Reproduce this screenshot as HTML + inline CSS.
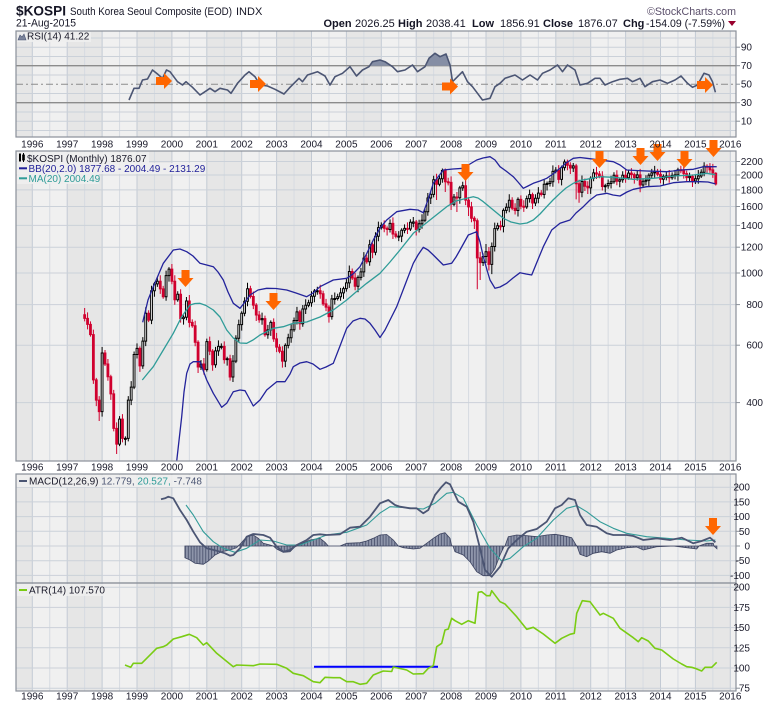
<!DOCTYPE html>
<html><head><meta charset="utf-8">
<style>
html,body{margin:0;padding:0;background:#fff;}
svg{display:block;font-family:"Liberation Sans",Arial,sans-serif;}
</style></head><body>
<svg width="780" height="707" viewBox="0 0 780 707" xmlns="http://www.w3.org/2000/svg">
<defs>
 <pattern id="bands" x="31.8" y="0" width="69.8" height="10" patternUnits="userSpaceOnUse">
  <rect x="0" y="0" width="34.9" height="10" fill="#f0f0f0"/>
  <rect x="34.9" y="0" width="34.9" height="10" fill="#e6e6e6"/>
  <rect x="0" y="0" width="1" height="10" fill="#c3cad4"/>
  <rect x="17.45" y="0" width="1" height="10" fill="#d6dbe1"/>
  <rect x="34.9" y="0" width="1" height="10" fill="#c3cad4"/>
  <rect x="52.35" y="0" width="1" height="10" fill="#d6dbe1"/>
 </pattern>
 <pattern id="hbars" x="30.85" y="0" width="2.9083" height="10" patternUnits="userSpaceOnUse">
  <rect x="0" y="0" width="2.9083" height="10" fill="#8e95aa"/>
  <rect x="0" y="0" width="0.7" height="10" fill="#3c4360"/>
 </pattern>
 <clipPath id="cpR"><rect x="16" y="31" width="720" height="106"/></clipPath>
 <clipPath id="cpM"><rect x="16" y="151" width="720" height="310"/></clipPath>
 <clipPath id="cpD"><rect x="16" y="474" width="720" height="109"/></clipPath>
 <clipPath id="cpA"><rect x="16" y="583" width="720" height="108"/></clipPath>
</defs>

<!-- panel backgrounds -->
<rect x="16" y="31" width="720" height="106" fill="url(#bands)"/>
<rect x="16" y="151" width="720" height="310" fill="url(#bands)"/>
<rect x="16" y="474" width="720" height="217" fill="url(#bands)"/>

<!-- horizontal grids -->
<g stroke="#cbd1d9" stroke-width="1">
 <line x1="16" x2="736" y1="38" y2="38"/><line x1="16" x2="736" y1="47.2" y2="47.2"/><line x1="16" x2="736" y1="56.5" y2="56.5"/>
 <line x1="16" x2="736" y1="75" y2="75"/><line x1="16" x2="736" y1="93.5" y2="93.5"/>
 <line x1="16" x2="736" y1="112" y2="112"/><line x1="16" x2="736" y1="121.2" y2="121.2"/><line x1="16" x2="736" y1="130.5" y2="130.5"/>
 <line x1="16" x2="736" y1="161.5" y2="161.5"/><line x1="16" x2="736" y1="175" y2="175"/><line x1="16" x2="736" y1="189.9" y2="189.9"/>
 <line x1="16" x2="736" y1="206.5" y2="206.5"/><line x1="16" x2="736" y1="225.4" y2="225.4"/><line x1="16" x2="736" y1="247.2" y2="247.2"/>
 <line x1="16" x2="736" y1="273" y2="273"/><line x1="16" x2="736" y1="304.6" y2="304.6"/><line x1="16" x2="736" y1="345.2" y2="345.2"/>
 <line x1="16" x2="736" y1="402.6" y2="402.6"/>
 <line x1="16" x2="736" y1="487.2" y2="487.2"/><line x1="16" x2="736" y1="501.9" y2="501.9"/><line x1="16" x2="736" y1="516.6" y2="516.6"/>
 <line x1="16" x2="736" y1="531.3" y2="531.3"/><line x1="16" x2="736" y1="546" y2="546"/><line x1="16" x2="736" y1="560.7" y2="560.7"/>
 <line x1="16" x2="736" y1="575.4" y2="575.4"/>
 <line x1="16" x2="736" y1="587.2" y2="587.2"/><line x1="16" x2="736" y1="607.4" y2="607.4"/><line x1="16" x2="736" y1="627.6" y2="627.6"/>
 <line x1="16" x2="736" y1="647.8" y2="647.8"/><line x1="16" x2="736" y1="668" y2="668"/><line x1="16" x2="736" y1="688.2" y2="688.2"/>
</g>
<!-- RSI levels -->
<line x1="16" x2="736" y1="65.7" y2="65.7" stroke="#8c8c8c" stroke-width="1.3"/>
<line x1="16" x2="736" y1="102.7" y2="102.7" stroke="#8c8c8c" stroke-width="1.3"/>
<line x1="16" x2="736" y1="84.2" y2="84.2" stroke="#8c8c8c" stroke-width="1" stroke-dasharray="7,3,2,3"/>

<!-- RSI -->
<g clip-path="url(#cpR)">
 <polygon fill="#858ea5" points="370.5,65.7 372.5,61.7 380,60 385,61.7 391.8,65.7"/>
 <polygon fill="#858ea5" points="426.6,65.7 429,58.3 435,53.3 440,56.7 446,54 450.1,65.7"/>
 <polyline fill="none" stroke="#4b5573" stroke-width="1.6" stroke-linejoin="round" points="129,100 134,88.3 139,88.3 142.5,80 147.5,79 152.5,70 157.5,74 162.5,78.3 166.5,70 170,71.7 177.5,81.7 182.5,85 186,81.7 192.5,87.3 200,95 205,91.7 210,88.3 215,91.7 220,88.3 227.5,90 231,93.3 237.5,83.3 245,75 249,71.7 255,76.7 260,85 267.5,86 275,89.3 284,94 290,87.3 299,78.3 302.5,81.7 307.5,75 317.5,71.7 325,76 330,85 335,76.7 342.5,73.3 350,66.7 356.5,76 362.5,70 369,66.7 372.5,61.7 380,60 385,61.7 392.5,66.7 397.5,71.7 405,70 412.5,65 417.5,71.7 425,66.7 429,58.3 435,53.3 440,56.7 446,54 450,65 452.5,81.7 457.5,76.7 462.5,71.7 467.5,81.7 472.5,86.7 477.5,93.3 482.5,100 490,98.3 495,86.7 500,83.3 505,78.3 515,75 522.5,80 530,75 537.5,80 542.5,73.3 550,70 557.5,65 562.5,71.7 567.5,65 575,70 580,85 587.5,83.3 595,78.3 600,78.3 605,85 612.5,81.7 620,79.3 627.5,78.3 632.5,81.7 640,78.3 645,86.7 652.5,81.7 660,80 667.5,83.3 675,80 681,76 687.5,83.3 692.5,87.3 697.5,85 704,73.3 709,75 712.5,81.7 715.4,92.3"/>
</g>

<!-- main price panel -->
<g clip-path="url(#cpM)">
 <g transform="translate(32.3,0) scale(2.9083,1)">
  <path fill="#d0002e" stroke="#d0002e" stroke-width="1" vector-effect="non-scaling-stroke" d="M18,308V321.4M17.69,314.7h.62V318.4h-.62zM19,312.4V329.4M18.69,318.4h.62V324.4h-.62zM20,321.4V336.6M19.69,324.4h.62V334.6h-.62zM21,329.6V383.9M20.69,334.6h.62V379.9h-.62zM22,377.9V406.1M21.69,379.9h.62V400.1h-.62zM23,396.1V421M22.69,400.1h.62V411.6h-.62zM25,350V366M24.69,353h.62V364h-.62zM26,359V380.7M25.69,364h.62V376.7h-.62zM27,374.7V399.9M26.69,376.7h.62V393.9h-.62zM28,389.9V431.4M27.69,393.9h.62V428.4h-.62zM29,422.4V454M28.69,428.4h.62V444.1h-.62zM31,414.1V442.4M30.69,419.1h.62V438.4h-.62zM37,346.4V371.9M36.69,348.4h.62V365.9h-.62zM40,310.3V322.1M39.69,313.3h.62V320.1h-.62zM44,275.2V293.9M43.69,281.2h.62V288.9h-.62zM45,285.9V298.7M44.69,288.9h.62V296.7h-.62zM48,264V284.2M47.69,269.1h.62V281.2h-.62zM49,275.2V304.8M48.69,281.2h.62V299.8h-.62zM51,289.2V322.6M50.69,294.2h.62V318.6h-.62zM54,295V327.4M53.69,301h.62V322.4h-.62zM55,319.4V327.7M54.69,322.4h.62V325.7h-.62zM56,320.7V346.3M55.69,325.7h.62V342.3h-.62zM57,340.3V373M56.69,342.3h.62V367h-.62zM59,358V374.6M58.69,364h.62V369.6h-.62zM61,336.6V355.1M60.69,341.6h.62V351.1h-.62zM62,349.1V370.8M61.69,351.1h.62V364.8h-.62zM66,341.4V363.6M65.69,346.4h.62V359.6h-.62zM68,354.8V380.6M67.69,358.8h.62V377h-.62zM75,285.7V298.5M74.69,288.7h.62V296.5h-.62zM76,291.5V309.1M75.69,296.5h.62V305.1h-.62zM77,303.1V321M76.69,305.1h.62V315h-.62zM78,311V322.7M77.69,315h.62V319.7h-.62zM80,315.6V336.8M79.69,318.6h.62V334.8h-.62zM83,318.4V341.9M82.69,322.4h.62V338.9h-.62zM84,332.9V352.1M83.69,338.9h.62V347.1h-.62zM85,344.1V353.3M84.69,347.1h.62V351.3h-.62zM86,346.3V367.6M85.69,351.3h.62V361.1h-.62zM92,309.9V329.8M91.69,311.9h.62V323.8h-.62zM99,284.7V298.8M98.69,290.7h.62V293.8h-.62zM100,290.8V305.9M99.69,293.8h.62V303.9h-.62zM101,298.9V311.1M100.69,303.9h.62V307.1h-.62zM102,305.1V322.6M101.69,307.1h.62V316.6h-.62zM110,268.5V280M109.69,271.5h.62V278h-.62zM111,273V290.2M110.69,278h.62V286.2h-.62zM115,255.1V263.7M114.69,258.1h.62V261.7h-.62zM117,242.8V258.2M116.69,244.8h.62V252.2h-.62zM121,220.4V232.3M120.69,225.4h.62V228.3h-.62zM122,226.3V235.5M121.69,228.3h.62V229.5h-.62zM124,217.4V239M123.69,223.4h.62V234h-.62zM125,231V238.4M124.69,234h.62V236.4h-.62zM129,222.4V234M128.69,228.4h.62V229.4h-.62zM132,220V235.5M131.69,222h.62V229.5h-.62zM139,173.8V200M138.69,179.8h.62V184.3h-.62zM142,168.5V192M141.69,170.5h.62V181.8h-.62zM143,177.8V185.4M142.69,181.8h.62V182.8h-.62zM144,176.4V210M143.69,182.4h.62V204.3h-.62zM146,192V212M145.69,197h.62V198h-.62zM149,179.8V205.1M148.69,185.8h.62V200.1h-.62zM150,197.1V216M149.69,200.1h.62V206.9h-.62zM151,201.9V222.2M150.69,206.9h.62V218.2h-.62zM152,216.2V229M151.69,218.2h.62V220.7h-.62zM153,218.5V289.2M152.69,220.7h.62V257.9h-.62zM154,251.9V280M153.69,257.9h.62V262.6h-.62zM157,247V270.5M156.69,251.8h.62V264.4h-.62zM161,220.8V230.4M160.69,225.8h.62V226.8h-.62zM165,197.2V210.2M164.69,200.2h.62V208.2h-.62zM166,203.2V214.5M165.69,208.2h.62V210.5h-.62zM168,195.4V209.3M167.69,199.4h.62V206.3h-.62zM169,200.3V211.9M168.69,206.3h.62V207.3h-.62zM172,192.6V209M171.69,194.6h.62V203h-.62zM175,190.1V196.5M174.69,193.1h.62V194.5h-.62zM181,165.1V183.4M180.69,170.1h.62V179.4h-.62zM184,159.6V170.3M183.69,162h.62V165.3h-.62zM185,162.3V174M184.69,165.3h.62V168h-.62zM187,163.9V199.4M186.69,165.9h.62V183.7h-.62zM188,179.7V202.7M187.69,183.7h.62V192.3h-.62zM190,178.5V191M189.69,181.5h.62V186.2h-.62zM191,181.2V194M190.69,186.2h.62V187.9h-.62zM194,166.9V179M193.69,172.9h.62V174h-.62zM195,171V178.3M194.69,174h.62V176.3h-.62zM196,171.3V190.5M195.69,176.3h.62V186.5h-.62zM201,170.3V185.3M200.69,175.3h.62V181.3h-.62zM204,169.2V182.7M203.69,175.2h.62V177.7h-.62zM206,168.1V178.6M205.69,173.1h.62V174.6h-.62zM207,172.6V183.6M206.69,174.6h.62V177.6h-.62zM209,168.9V192.3M208.69,174.9h.62V185h-.62zM215,168.9V176.2M214.69,171.9h.62V174.2h-.62zM216,169.2V183.2M215.69,174.2h.62V179.2h-.62zM219,170V182.7M218.69,176h.62V177.7h-.62zM223,165.7V173.2M222.69,169.7h.62V170.7h-.62zM224,164.2V178.6M223.69,170.2h.62V173.6h-.62zM225,170.6V182M224.69,173.6h.62V177.6h-.62zM227,174.4V187M226.69,176.4h.62V181h-.62zM232,164.3V173.1M231.69,166.3h.62V167.3h-.62zM233,163.1V172.9M232.69,167.1h.62V169.9h-.62zM234,163.9V177.9M233.69,169.9h.62V172.9h-.62zM235,172.3V185.5M234.69,173.2h.62V184h-.62z"/>
  <path fill="#ffffff" stroke="#000000" stroke-width="1" vector-effect="non-scaling-stroke" d="M24,347V353M24,411.6V416.6M23.69,353h.62V411.6h-.62zM30,416.1V419.1M30,444.1V446.1M29.69,419.1h.62V444.1h-.62zM32,436.4V438.4M32,439.4V445.4M31.69,438.4h.62V439.4h-.62zM33,396.1V400.1M33,438.4V441.4M32.69,400.1h.62V438.4h-.62zM34,381.1V387.1M34,400.1V405.1M33.69,387.1h.62V400.1h-.62zM35,351.5V354.5M35,387.1V389.1M34.69,354.5h.62V387.1h-.62zM36,343.4V348.4M36,354.5V358.5M35.69,348.4h.62V354.5h-.62zM38,337.1V341.1M38,365.9V368.9M37.69,341.1h.62V365.9h-.62zM39,307.3V313.3M39,341.1V346.1M38.69,313.3h.62V341.1h-.62zM41,285.7V290.7M41,320.1V324.1M40.69,290.7h.62V320.1h-.62zM42,281.9V283.9M42,290.7V296.7M41.69,283.9h.62V290.7h-.62zM43,277.2V281.2M43,283.9V286.9M42.69,281.2h.62V283.9h-.62zM46,270.6V275.6M46,296.7V300.7M45.69,275.6h.62V296.7h-.62zM47,267.1V269.1M47,275.6V281.6M46.69,269.1h.62V275.6h-.62zM50,291.2V294.2M50,299.8V301.8M49.69,294.2h.62V299.8h-.62zM52,315.2V317.2M52,318.6V324.6M51.69,317.2h.62V318.6h-.62zM53,297V301M53,317.2V320.2M52.69,301h.62V317.2h-.62zM58,360V364M58,367V370M57.69,364h.62V367h-.62zM60,338.6V341.6M60,369.6V371.6M59.69,341.6h.62V369.6h-.62zM63,346.9V350.9M63,364.8V367.8M62.69,350.9h.62V364.8h-.62zM64,340.4V346.4M64,350.9V355.9M63.69,346.4h.62V350.9h-.62zM65,343.4V346.4M65,347.4V349.4M64.69,346.4h.62V347.4h-.62zM67,356.8V358.8M67,359.6V365.6M66.69,358.8h.62V359.6h-.62zM69,355.1V361.1M69,377V382M68.69,361.1h.62V377h-.62zM70,335.2V338.2M70,361.1V363.1M69.69,338.2h.62V361.1h-.62zM71,319.6V324.6M71,338.2V342.2M70.69,324.6h.62V338.2h-.62zM72,311.3V313.3M72,324.6V330.6M71.69,313.3h.62V324.6h-.62zM73,297.3V301.3M73,313.3V316.3M72.69,301.3h.62V313.3h-.62zM74,282.7V288.7M74,301.3V306.3M73.69,288.7h.62V301.3h-.62zM79,312.6V318.6M79,319.7V324.7M78.69,318.6h.62V319.7h-.62zM81,324.9V329.9M81,334.8V338.8M80.69,329.9h.62V334.8h-.62zM82,320.4V322.4M82,329.9V335.9M81.69,322.4h.62V329.9h-.62zM87,343.4V345.4M87,361.1V367.1M86.69,345.4h.62V361.1h-.62zM88,333.7V337.7M88,345.4V348.4M87.69,337.7h.62V345.4h-.62zM89,323.7V329.7M89,337.7V342.7M88.69,329.7h.62V337.7h-.62zM90,317.5V320.5M90,329.7V331.7M89.69,320.5h.62V329.7h-.62zM91,306.9V311.9M91,320.5V324.5M90.69,311.9h.62V320.5h-.62zM93,305V309M93,323.8V326.8M92.69,309h.62V323.8h-.62zM94,299.3V305.3M94,309V314M93.69,305.3h.62V309h-.62zM95,299.7V302.7M95,305.3V307.3M94.69,302.7h.62V305.3h-.62zM96,291.2V296.2M96,302.7V306.7M95.69,296.2h.62V302.7h-.62zM97,289V291M97,296.2V302.2M96.69,291h.62V296.2h-.62zM98,286.7V290.7M98,291.7V294.7M97.69,290.7h.62V291.7h-.62zM103,294.9V298.9M103,316.6V319.6M102.69,298.9h.62V316.6h-.62zM104,292.5V298.5M104,299.5V304.5M103.69,298.5h.62V299.5h-.62zM105,293.7V296.7M105,298.5V300.5M104.69,296.7h.62V298.5h-.62zM106,287.9V292.9M106,296.7V300.7M105.69,292.9h.62V296.7h-.62zM107,286.6V288.6M107,292.9V298.9M106.69,288.6h.62V292.9h-.62zM108,278.9V282.9M108,288.6V291.6M107.69,282.9h.62V288.6h-.62zM109,265.5V271.5M109,282.9V287.9M108.69,271.5h.62V282.9h-.62zM112,275.4V277.4M112,286.2V292.2M111.69,277.4h.62V286.2h-.62zM113,267.9V271.9M113,277.4V280.4M112.69,271.9h.62V277.4h-.62zM114,252.1V258.1M114,271.9V276.9M113.69,258.1h.62V271.9h-.62zM116,239.8V244.8M116,261.7V265.7M115.69,244.8h.62V261.7h-.62zM118,232.2V236.2M118,252.2V255.2M117.69,236.2h.62V252.2h-.62zM119,221.6V227.6M119,236.2V241.2M118.69,227.6h.62V236.2h-.62zM120,222.4V225.4M120,227.6V229.6M119.69,225.4h.62V227.6h-.62zM123,219.4V223.4M123,229.5V232.5M122.69,223.4h.62V229.5h-.62zM126,231.1V236.1M126,237.1V241.1M125.69,236.1h.62V237.1h-.62zM127,228.3V230.3M127,236.1V242.1M126.69,230.3h.62V236.1h-.62zM128,224.4V228.4M128,230.3V233.3M127.69,228.4h.62V230.3h-.62zM130,219.2V222.2M130,229V231M129.69,222.2h.62V229h-.62zM131,217V222M131,223.2V227.2M130.69,222h.62V223.2h-.62zM133,219.7V223.7M133,229.5V232.5M132.69,223.7h.62V229.5h-.62zM134,214.2V220.2M134,223.7V228.7M133.69,220.2h.62V223.7h-.62zM135,208.8V211.8M135,220.2V222.2M134.69,211.8h.62V220.2h-.62zM136,193V198M136,211.8V215.8M135.69,198h.62V211.8h-.62zM137,192.4V194.4M137,198V204M136.69,194.4h.62V198h-.62zM138,175.8V179.8M138,194.4V197.4M137.69,179.8h.62V194.4h-.62zM140,175.8V178.8M140,184.3V186.3M139.69,178.8h.62V184.3h-.62zM141,168.5V170.5M141,178.8V182.8M140.69,170.5h.62V178.8h-.62zM145,194V197M145,204.3V206.3M144.69,197h.62V204.3h-.62zM147,185.9V187.9M147,197.7V203.7M146.69,187.9h.62V197.7h-.62zM148,181.8V185.8M148,187.9V190.9M147.69,185.8h.62V187.9h-.62zM155,253.5V256.5M155,262.6V266M154.69,256.5h.62V262.6h-.62zM156,244V251.8M156,256.5V263M155.69,251.8h.62V256.5h-.62zM158,242.5V246.5M158,264.4V274.1M157.69,246.5h.62V264.4h-.62zM159,222.6V228.6M159,246.5V251.5M158.69,228.6h.62V246.5h-.62zM160,222.8V225.8M160,228.6V230.6M159.69,225.8h.62V228.6h-.62zM162,208.4V210.4M162,226.4V232.4M161.69,210.4h.62V226.4h-.62zM163,203.2V207.2M163,210.4V213.4M162.69,207.2h.62V210.4h-.62zM164,194.2V200.2M164,207.2V212.2M163.69,200.2h.62V207.2h-.62zM167,197.4V199.4M167,210.5V216.5M166.69,199.4h.62V210.5h-.62zM170,195.6V198.6M170,206.9V208.9M169.69,198.6h.62V206.9h-.62zM171,189.6V194.6M171,198.6V202.6M170.69,194.6h.62V198.6h-.62zM173,194.2V198.2M173,203V206M172.69,198.2h.62V203h-.62zM174,187.1V193.1M174,198.2V203.2M173.69,193.1h.62V198.2h-.62zM176,179.3V184.3M176,194.5V198.5M175.69,184.3h.62V194.5h-.62zM177,181.5V183.5M177,184.5V190.5M176.69,183.5h.62V184.5h-.62zM178,177.8V181.8M178,183.5V186.5M177.69,181.8h.62V183.5h-.62zM179,165.4V171.4M179,181.8V186.8M178.69,171.4h.62V181.8h-.62zM180,167.1V170.1M180,171.4V173.4M179.69,170.1h.62V171.4h-.62zM182,165.6V167.6M182,179.4V185.4M181.69,167.6h.62V179.4h-.62zM183,159.5V162M183,167.6V170.6M182.69,162h.62V167.6h-.62zM186,163V165.9M186,168V172M185.69,165.9h.62V168h-.62zM189,175.5V181.5M189,192.3V197.3M188.69,181.5h.62V192.3h-.62zM192,176.2V178.2M192,187.9V193.9M191.69,178.2h.62V187.9h-.62zM193,168.9V172.9M193,178.2V181.2M192.69,172.9h.62V178.2h-.62zM197,183.7V185.7M197,186.7V192.5M196.69,185.7h.62V186.7h-.62zM198,179.5V183.5M198,185.7V188.7M197.69,183.5h.62V185.7h-.62zM199,175.8V181.8M199,183.5V188.5M198.69,181.8h.62V183.5h-.62zM200,172.3V175.3M200,181.8V183.8M199.69,175.3h.62V181.8h-.62zM202,177.8V179.8M202,181.3V187.3M201.69,179.8h.62V181.3h-.62zM203,171.2V175.2M203,179.8V182.8M202.69,175.2h.62V179.8h-.62zM205,170.1V173.1M205,177.7V179.7M204.69,173.1h.62V177.7h-.62zM208,170.9V174.9M208,177.6V180.6M207.69,174.9h.62V177.6h-.62zM210,178.2V181.2M210,185V187M209.69,181.2h.62V185h-.62zM211,175.3V180.3M211,181.3V185.2M210.69,180.3h.62V181.3h-.62zM212,173.2V175.2M212,180.3V186.3M211.69,175.2h.62V180.3h-.62zM213,168.9V172.9M213,175.2V178.2M212.69,172.9h.62V175.2h-.62zM214,165.9V171.9M214,172.9V177.9M213.69,171.9h.62V172.9h-.62zM217,174.4V176.4M217,179.2V185.2M216.69,176.4h.62V179.2h-.62zM218,172V176M218,177.4V180.4M217.69,176h.62V177.4h-.62zM220,172.4V175.4M220,177.7V179.7M219.69,175.4h.62V177.7h-.62zM221,169.9V174.9M221,175.9V179.4M220.69,174.9h.62V175.9h-.62zM222,167.7V169.7M222,174.9V180.9M221.69,169.7h.62V174.9h-.62zM226,172.6V176.4M226,177.6V181.6M225.69,176.4h.62V177.6h-.62zM228,174.7V178.7M228,181V184M227.69,178.7h.62V181h-.62zM229,170V176M229,178.7V183.7M228.69,176h.62V178.7h-.62zM230,169.2V172.2M230,176V178M229.69,172.2h.62V176h-.62zM231,162.2V166.3M231,172.2V176.2M230.69,166.3h.62V172.2h-.62z"/>
 </g>
 <!-- MA(20) -->
 <polyline fill="none" stroke="#2f9c98" stroke-width="1.3" stroke-linejoin="round" points="142.3,380 148,373 153.3,366.7 163.3,350 173.3,333.3 181.7,316.7 190,305 195,303.5 200,303.3 206,305.5 213.3,310 220,317 226.7,330 233.3,338 240,343 246.7,343.3 253,340 260,335 273.3,328.3 283.3,326.7 293.3,323.3 306.7,322 320,317 333.3,310 346.7,300 356,292 366.7,283.3 380,273.3 390,262 400,250 413.3,233.3 430,220 446.7,206.7 456,201 466.7,198.3 473.3,196.7 478,198 483.3,201.7 493.3,210 503.3,218.3 511,222 520,224 527,223 533.3,220 540,214 546.7,206.7 553,200 560,193.3 566,188 573.3,183.3 580,180.5 586.7,179.3 600,176.7 613.3,177.3 633.3,179.3 653.3,178.3 673.3,176 693.3,175 706.7,173.3 715.4,174.7"/>
 <!-- BB upper -->
 <polyline fill="none" stroke="#23239b" stroke-width="1.3" stroke-linejoin="round" points="142.7,322.3 148,300 153.3,286.7 163.3,263.3 173.3,250 180,249 186.7,251.7 193,256 200,263.3 206.7,265 213.3,266.7 218,272 223.3,280 228,292 233.3,303.3 240,308.3 245,302 250,295 258,290 266.7,288.3 276,288.5 286.7,290 296,293 306.7,296.7 313,293 320,286.7 333.3,280 346.7,278.3 353,274 360,266.7 366,255 373.3,240 380,228 386.7,220 396.7,211.7 410,209.3 418,210 423.3,212.7 428,200 433.3,183.3 443.3,170 453,169 463.3,168.3 470,164 476.7,160 483,158 490,156.7 495,160 500,166.7 506,171 513.3,176.7 518,182 523.3,188.3 528,186 533.3,183.3 540,181 546.7,178.3 553,174 560,168.3 566,163 573.3,158.3 580,157.5 586.7,158.3 600,160 613.3,161.7 620,165 626.7,170 636,170.5 646.7,171 656,171.3 666.7,171.7 673,171 680,170 693.3,169.3 703.3,166.7 716.7,166.7"/>
 <!-- BB lower -->
 <polyline fill="none" stroke="#23239b" stroke-width="1.3" stroke-linejoin="round" points="175.5,470 176.7,461 181.7,416.7 184,392 186.7,373.3 190,364 193.3,361.7 200,361.7 203,370 206.7,380 213.3,393.3 221.7,407.3 226.7,403.3 233.3,391.7 240,390 245,390.7 249,398 253.3,406 260,400 266.7,390 276.7,381.7 285,381.7 290,374 293.3,366.7 300,363 306.7,361.7 313,364 320,369.3 326,367 333.3,363.3 340,346 346.7,328.3 353,321 360,318.3 365,319 370,323.3 375,330 380,337.5 385,330 390,320 396.7,306.7 405,285 413.3,263.3 418,255 423.3,247.3 428,250 433.3,255 443.3,265 451.7,263.3 456,257 460,250 468.3,235 476.7,231.7 480,242 483.3,256.7 487,270 490,280 495,288.3 500,287 506.7,283.3 513,278 520,272.7 526,274 531.7,275 537,262 543.3,246.7 551.7,230 560,223.3 570,220 576,213 583.3,206.7 590,200 596.7,195 606.7,193.3 613,195 620,196 627,192 633.3,189.3 646.7,186.7 660,186 673.3,182.7 686.7,181.7 700,181.7 708,182 715.4,183.9"/>
</g>

<!-- MACD -->
<g clip-path="url(#cpD)">
 <polygon fill="url(#hbars)" stroke="#3c4360" stroke-width="0.8" points="184.9,546 184.9,557.7 190,560 195,563.3 203.3,564.3 208.3,561 215,555 221.7,551.7 230,550 236.7,547.7 238,546 240,544.3 246.7,536.7 253.3,535 258.3,538.3 263.3,543.3 270,545 273.3,546 276.7,549 283.3,552.3 290,551.7 295,546.7 297,546 300,544.3 310,540 320,538.3 325,542.3 328.3,546 340,546 346.7,543.3 360,542.7 366.7,541 373.3,538.3 380,535 386.7,534.5 393.3,540 398.3,546 403.3,547.7 413.3,549 420,548.3 423,546 426.7,543.3 433.3,538.3 440,534 445,532.7 450,538.3 451.7,545.7 453,546 455,551.7 463.3,555 470,561.7 476.7,571.7 483.3,575.7 490,575.7 495,568.3 500,555 504,546.7 505,546 508.3,536.7 516.7,535 526.7,535.7 536.7,536.7 546.7,535 555,534.3 563.3,535.7 571.7,537.7 576,545 577,546 580,554.3 586.7,556.7 593.3,553.3 601.7,551.7 610,553.3 616.7,550 626.7,547.7 636.7,547 643.3,550 650,548.3 656.7,546.7 673.3,546 686.7,547.7 696.7,549 699,546 701.7,545 706.7,543.3 713.3,543.3 714,546 716.9,548.7 716.9,546"/>
 <polyline fill="none" stroke="#339c99" stroke-width="1.1" stroke-linejoin="round" points="186,505 193.3,515 203.3,531.7 213.3,541.7 223.3,548.3 235,552.3 246.7,548.3 260,540 273.3,541 286.7,545 300,545 313.3,540 326.7,535 346.7,532.3 366.7,525 380,513 390,506.7 406.7,507.7 423.3,509 435,503.3 446.7,493.3 453.3,492.3 463.3,498.3 476.7,525 490,548.3 501.7,561 510,558.3 523.3,546.7 536.7,538.3 553.3,520 566.7,508.3 576.7,505.7 586.7,511.7 600,521.7 613.3,528.3 626.7,533.3 646.7,536.7 666.7,538.3 686.7,540 706.7,541 715.4,540"/>
 <polyline fill="none" stroke="#4b5573" stroke-width="1.8" stroke-linejoin="round" points="161,499.3 165,498.3 168.3,496.7 173.3,498.3 180,510 186.7,520 193.3,531.7 200,542.3 206.7,548.3 216.7,550.7 225,553.3 230,555.7 233.3,555 240,548.3 246.7,536.7 253.3,534 263.3,535 270,537.7 276.7,546.7 283.3,551.7 290,550 296.7,545 306.7,540 313.3,535 320,534.3 326.7,535 340,534.3 350,527.7 360,526.7 370,516.7 380,503.3 388.3,500 395,505 400,506.7 410,508.3 416.7,508.3 423.3,513.3 428.3,510 435,495 441.7,486.7 446,482.3 450,484.3 458.3,501.7 466.7,506.7 473.3,521.7 480,548.3 485,570 491.7,576.7 500,566.7 508.3,548.3 516.7,540 526.7,531.7 536.7,529 546.7,521.7 555,508.3 561.7,505 568.3,498.3 575,500 580,515 586.7,525 596.7,526.7 606.7,533.3 613.3,535 626.7,535 633.3,536 643.3,540 656.7,538.3 670,540 681.7,537.7 693.3,543.3 701.7,541 710,537.7 715.4,542.3"/>
</g>

<!-- ATR -->
<g clip-path="url(#cpA)">
<line x1="314" x2="438" y1="666.7" y2="666.7" stroke="#0000ff" stroke-width="2"/>
<polyline fill="none" stroke="#7acc14" stroke-width="1.6" stroke-linejoin="round" points="125,665 130.7,667.3 133.3,663.3 141.7,663.3 146.7,658.3 156.7,648.3 163.3,646.7 166.7,645 173.3,639 181.7,636.7 189.3,634.3 196.7,637.7 203.3,645 206.7,642.7 216.7,653.3 233.3,666.7 236.7,665 253.3,665.7 260,664 276.7,664.3 286.7,668.3 293.3,673.3 303.3,675.7 313.3,681.7 320,682.7 325,677.3 333.3,677.7 340,677.7 346.7,681.7 353.3,681.7 360,684.3 366.7,683.3 373.3,675 383.3,671 391.7,671.5 393.3,667 406.7,670 413.3,674 423.3,673.7 428.3,668.3 433.3,665.7 436.7,646.7 441.7,643.3 445,630 448.3,629 451.7,618.3 455,620.7 461.7,624.3 468.3,620.7 475,623.3 478.3,592.3 481.7,591.7 486.7,595.7 490,595.7 491.7,590.7 500,601.7 505,604 516.7,616.7 526.7,629.3 533.3,627.3 543.3,634 555,643.3 561.7,638.3 570,634.3 574.3,633.3 576.7,613.3 582.3,600.7 590,601.7 600,615 603.3,613.3 613.3,618.3 620,628.3 633.3,637.7 638.3,641.7 641.7,637.7 648.3,641 655,648.3 661.7,650 673.3,659 681.7,664 686.7,666.7 691.7,667.3 695,668.3 701.7,671 705,667.3 711.7,667.3 716.7,662.3"/>
</g>

<!-- panel borders -->
<g fill="none" stroke="#8a9099" stroke-width="1.2">
 <rect x="16" y="31" width="720" height="106"/>
 <rect x="16" y="151" width="720" height="310"/>
 <rect x="16" y="474" width="720" height="109"/>
 <rect x="16" y="583" width="720" height="108"/>
</g>
<!-- right ticks -->
<g stroke="#8a9099" stroke-width="1">
 <line x1="736" x2="740" y1="47.2" y2="47.2"/><line x1="736" x2="740" y1="65.7" y2="65.7"/><line x1="736" x2="740" y1="84.2" y2="84.2"/><line x1="736" x2="740" y1="102.7" y2="102.7"/><line x1="736" x2="740" y1="121.2" y2="121.2"/>
 <line x1="736" x2="740" y1="161.5" y2="161.5"/><line x1="736" x2="740" y1="175" y2="175"/><line x1="736" x2="740" y1="189.9" y2="189.9"/><line x1="736" x2="740" y1="206.5" y2="206.5"/><line x1="736" x2="740" y1="225.4" y2="225.4"/><line x1="736" x2="740" y1="247.2" y2="247.2"/><line x1="736" x2="740" y1="273" y2="273"/><line x1="736" x2="740" y1="304.6" y2="304.6"/><line x1="736" x2="740" y1="345.2" y2="345.2"/><line x1="736" x2="740" y1="402.6" y2="402.6"/>
 <line x1="736" x2="740" y1="487.2" y2="487.2"/><line x1="736" x2="740" y1="501.9" y2="501.9"/><line x1="736" x2="740" y1="516.6" y2="516.6"/><line x1="736" x2="740" y1="531.3" y2="531.3"/><line x1="736" x2="740" y1="546" y2="546"/><line x1="736" x2="740" y1="560.7" y2="560.7"/><line x1="736" x2="740" y1="575.4" y2="575.4"/>
 <line x1="736" x2="740" y1="587.2" y2="587.2"/><line x1="736" x2="740" y1="607.4" y2="607.4"/><line x1="736" x2="740" y1="627.6" y2="627.6"/><line x1="736" x2="740" y1="647.8" y2="647.8"/><line x1="736" x2="740" y1="668" y2="668"/><line x1="736" x2="740" y1="688.2" y2="688.2"/>
</g>

<!-- arrows -->
<g fill="#ff6600">
 <polygon points="156,77 164,77 164,73 172,81 164,89 164,85 156,85"/>
 <polygon points="250,80 258,80 258,76 266,84 258,92 258,88 250,88"/>
 <polygon points="442,82.5 450,82.5 450,78.5 458,86.5 450,94.5 450,90.5 442,90.5"/>
 <polygon points="697,81 705,81 705,77 713,85 705,93 705,89 697,89"/>
 <polygon points="181.5,270 189.5,270 189.5,278 193.5,278 185.5,287 177.5,278 181.5,278"/>
 <polygon points="269.5,293 277.5,293 277.5,301 281.5,301 273.5,310 265.5,301 269.5,301"/>
 <polygon points="461.5,164 469.5,164 469.5,172 473.5,172 465.5,181 457.5,172 461.5,172"/>
 <polygon points="595.5,151 603.5,151 603.5,159 607.5,159 599.5,168 591.5,159 595.5,159"/>
 <polygon points="636.5,148 644.5,148 644.5,156 648.5,156 640.5,165 632.5,156 636.5,156"/>
 <polygon points="653.5,144 661.5,144 661.5,152 665.5,152 657.5,161 649.5,152 653.5,152"/>
 <polygon points="680.5,151 688.5,151 688.5,159 692.5,159 684.5,168 676.5,159 680.5,159"/>
 <polygon points="709.5,140 717.5,140 717.5,148 721.5,148 713.5,157 705.5,148 709.5,148"/>
 <polygon points="709,518 717,518 717,526 721,526 713,535 705,526 709,526"/>
</g>

<!-- header -->
<text x="16" y="15.5" font-size="14" font-weight="bold" fill="#151525" textLength="50" lengthAdjust="spacingAndGlyphs">$KOSPI</text>
<text x="70" y="15" font-size="11" fill="#151525" textLength="162" lengthAdjust="spacingAndGlyphs">South Korea Seoul Composite (EOD)</text>
<text x="236" y="15" font-size="11" fill="#151525">INDX</text>
<text x="16" y="26.5" font-size="11" fill="#151525" textLength="60" lengthAdjust="spacingAndGlyphs">21-Aug-2015</text>
<text x="647" y="15" font-size="11" fill="#5a4e6a" textLength="89" lengthAdjust="spacingAndGlyphs">©StockCharts.com</text>
<g font-size="11" fill="#151525">
 <text x="323.5" y="27" font-weight="bold">Open</text><text x="355" y="27">2026.25</text>
 <text x="398" y="27" font-weight="bold">High</text><text x="426" y="27">2038.41</text>
 <text x="472" y="27" font-weight="bold">Low</text><text x="500" y="27">1856.91</text>
 <text x="543" y="27" font-weight="bold">Close</text><text x="578" y="27">1876.07</text>
 <text x="623" y="27" font-weight="bold">Chg</text><text x="646" y="27" textLength="79" lengthAdjust="spacingAndGlyphs">-154.09 (-7.59%)</text>
</g>
<polygon points="728,21 736,21 732,26" fill="#99002e"/>

<!-- legends -->
<rect x="17" y="32" width="74" height="10" fill="#eeeeee" opacity="0.9"/>
<polygon points="18,40 20,35 22,37 24,34 26,40" fill="#7c859c" stroke="#4b5573" stroke-width="0.6"/>
<text x="27" y="39.5" font-size="10" fill="#1a1a2a">RSI(14) 41.22</text>

<rect x="17" y="152" width="132" height="11" fill="#eeeeee" opacity="0.9"/>
<rect x="17" y="163" width="181" height="11" fill="#eeeeee" opacity="0.9"/>
<rect x="17" y="173" width="82" height="11" fill="#eeeeee" opacity="0.9"/>
<rect x="19" y="154" width="2" height="7" fill="#000"/><rect x="22.5" y="155" width="2" height="5" fill="none" stroke="#000" stroke-width="0.8"/><line x1="20" x2="20" y1="153" y2="162" stroke="#000"/><line x1="23.5" x2="23.5" y1="153" y2="162" stroke="#000"/>
<text x="27" y="161.8" font-size="10" fill="#1a1a2a">$KOSPI (Monthly) 1876.07</text>
<rect x="19" y="167.3" width="8" height="2" fill="#1f1f99"/>
<text x="28.5" y="171.8" font-size="10" fill="#1f1f99">BB(20,2.0) 1877.68 - 2004.49 - 2131.29</text>
<rect x="19" y="177.3" width="8" height="2" fill="#2f9c98"/>
<text x="28.5" y="181.8" font-size="10" fill="#2f9c98">MA(20) 2004.49</text>

<rect x="17" y="475" width="180" height="12" fill="#eeeeee" opacity="0.9"/>
<rect x="19" y="480" width="8" height="2" fill="#4b5573"/>
<text x="29" y="484.5" font-size="10" fill="#1a1a2a">MACD(12,26,9) <tspan fill="#4b5573">12.779,</tspan> <tspan fill="#2f9c98">20.527,</tspan> <tspan fill="#4b5573">-7.748</tspan></text>

<rect x="17" y="584" width="87" height="12" fill="#eeeeee" opacity="0.9"/>
<rect x="19" y="589" width="8" height="2" fill="#7acc14"/>
<text x="29" y="593.5" font-size="10" fill="#1a1a2a">ATR(14) 107.570</text>

<!-- right axis labels -->
<g font-size="10" fill="#1a1a2a" text-anchor="end">
 <text x="752" y="50.7">90</text><text x="752" y="69.2">70</text><text x="752" y="87.7">50</text><text x="752" y="106.2">30</text><text x="752" y="124.7">10</text>
 <text x="763" y="165">2200</text><text x="763" y="178.5">2000</text><text x="763" y="193.4">1800</text><text x="763" y="210">1600</text><text x="763" y="228.9">1400</text><text x="763" y="250.7">1200</text><text x="763" y="276.5">1000</text><text x="763" y="308.1">800</text><text x="763" y="348.7">600</text><text x="763" y="406.1">400</text>
 <text x="750" y="490.7">200</text><text x="750" y="505.4">150</text><text x="750" y="520.1">100</text><text x="750" y="534.8">50</text><text x="750" y="549.5">0</text><text x="750" y="564.2">-50</text><text x="750" y="578.9">-100</text>
 <text x="750" y="590.7">200</text><text x="750" y="610.9">175</text><text x="750" y="631.1">150</text><text x="750" y="651.3">125</text><text x="750" y="671.5">100</text><text x="750" y="691.7">75</text>
</g>

<!-- year labels -->
<g font-size="10" fill="#1a1a2a" text-anchor="middle">
 <g transform="translate(0,147.5)">
  <text x="32.3">1996</text><text x="67.2">1997</text><text x="102.1">1998</text><text x="137">1999</text><text x="171.9">2000</text><text x="206.8">2001</text><text x="241.7">2002</text><text x="276.6">2003</text><text x="311.5">2004</text><text x="346.4">2005</text><text x="381.3">2006</text><text x="416.2">2007</text><text x="451.1">2008</text><text x="486">2009</text><text x="520.9">2010</text><text x="555.8">2011</text><text x="590.7">2012</text><text x="625.6">2013</text><text x="660.5">2014</text><text x="695.4">2015</text><text x="730.3">2016</text>
 </g>
 <g transform="translate(0,470.5)">
  <text x="32.3">1996</text><text x="67.2">1997</text><text x="102.1">1998</text><text x="137">1999</text><text x="171.9">2000</text><text x="206.8">2001</text><text x="241.7">2002</text><text x="276.6">2003</text><text x="311.5">2004</text><text x="346.4">2005</text><text x="381.3">2006</text><text x="416.2">2007</text><text x="451.1">2008</text><text x="486">2009</text><text x="520.9">2010</text><text x="555.8">2011</text><text x="590.7">2012</text><text x="625.6">2013</text><text x="660.5">2014</text><text x="695.4">2015</text><text x="730.3">2016</text>
 </g>
 <g transform="translate(0,699.5)">
  <text x="32.3">1996</text><text x="67.2">1997</text><text x="102.1">1998</text><text x="137">1999</text><text x="171.9">2000</text><text x="206.8">2001</text><text x="241.7">2002</text><text x="276.6">2003</text><text x="311.5">2004</text><text x="346.4">2005</text><text x="381.3">2006</text><text x="416.2">2007</text><text x="451.1">2008</text><text x="486">2009</text><text x="520.9">2010</text><text x="555.8">2011</text><text x="590.7">2012</text><text x="625.6">2013</text><text x="660.5">2014</text><text x="695.4">2015</text><text x="730.3">2016</text>
 </g>
</g>
</svg>
</body></html>
